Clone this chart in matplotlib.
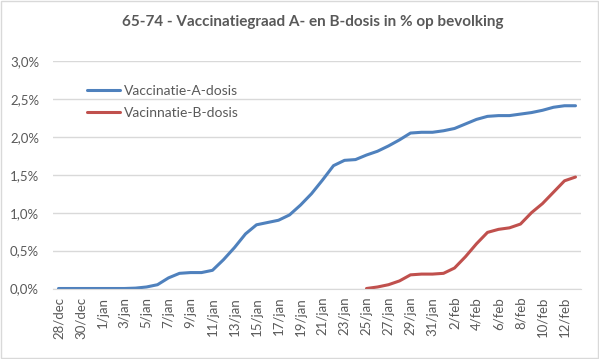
import numpy as np
import matplotlib
matplotlib.use("Agg")
import matplotlib.pyplot as plt
from matplotlib.ticker import FuncFormatter

# data (in % of population), one value per day from 28/dec to 13/feb
dagen = (["28/dec", "29/dec", "30/dec", "31/dec"]
         + [f"{d}/jan" for d in range(1, 32)]
         + [f"{d}/feb" for d in range(1, 14)])

dosis_a = [0.0, 0.0, 0.0, 0.0, 0.0, 0.0, 0.0, 0.005, 0.02, 0.05,
           0.14, 0.20, 0.21, 0.21, 0.24, 0.38, 0.54, 0.72, 0.84, 0.87,
           0.90, 0.97, 1.10, 1.25, 1.43, 1.62, 1.69, 1.70, 1.76, 1.81,
           1.88, 1.96, 2.05, 2.06, 2.06, 2.08, 2.11, 2.17, 2.23, 2.27,
           2.28, 2.28, 2.30, 2.32, 2.35, 2.39, 2.41, 2.41]

dosis_b = [np.nan] * 28 + [0.0, 0.02, 0.05, 0.10, 0.18, 0.19, 0.19, 0.20,
                           0.27, 0.42, 0.59, 0.74, 0.78, 0.80, 0.85, 1.00,
                           1.12, 1.27, 1.42, 1.47]

titel = "65-74 - Vaccinatiegraad A- en B-dosis in % op bevolking"
grijs = "#595959"

plt.rcParams['font.family'] = ['Lato', 'DejaVu Sans']

fig = plt.figure(figsize=(5.99, 3.59), dpi=100)
fig.patch.set_facecolor("white")
ax = fig.add_axes([53 / 599, 1 - 288.5 / 359, 528 / 599, 227.5 / 359])

x = np.arange(len(dagen))
ax.plot(x, dosis_a, color="#4F81BD", lw=2.2, label="Vaccinatie-A-dosis",
        solid_capstyle="round")
ax.plot(x, dosis_b, color="#C0504D", lw=2.2, label="Vacinnatie-B-dosis",
        solid_capstyle="round")

ax.set_xlim(-0.5, len(dagen) - 0.5)
ax.set_ylim(0, 3.0)
ax.set_yticks(np.arange(0, 3.01, 0.5))
ax.yaxis.set_major_formatter(FuncFormatter(lambda v, p: f"{v:.1f}%".replace(".", ",")))
ax.set_xticks(x[::2])
ax.set_xticklabels(dagen[::2], rotation=90)
ax.tick_params(length=0, colors=grijs, labelsize=9.5)
ax.tick_params(axis="x", pad=6)
ax.tick_params(axis="y", pad=10)

ax.grid(axis="y", color="#d9d9d9", lw=1)
ax.set_axisbelow(True)
for s in ["top", "right", "left"]:
    ax.spines[s].set_visible(False)
ax.spines["bottom"].set_color("#d9d9d9")

leg = ax.legend(loc="upper left", bbox_to_anchor=(0.04, 0.95), frameon=False,
                fontsize=10, handlelength=2.4, handletextpad=0.3,
                labelspacing=0.75)
for t in leg.get_texts():
    t.set_color(grijs)

fig.text(0.522, 1 - 22 / 359, titel, ha="center", va="center",
         fontsize=11, fontweight="bold", color=grijs)

# rand rond de grafiek
fig.patches.append(plt.Rectangle((0.001, 0.002), 0.997, 0.995, transform=fig.transFigure,
                                 fill=False, edgecolor="#d9d9d9", lw=1))

fig.savefig("out.png", dpi=100)
